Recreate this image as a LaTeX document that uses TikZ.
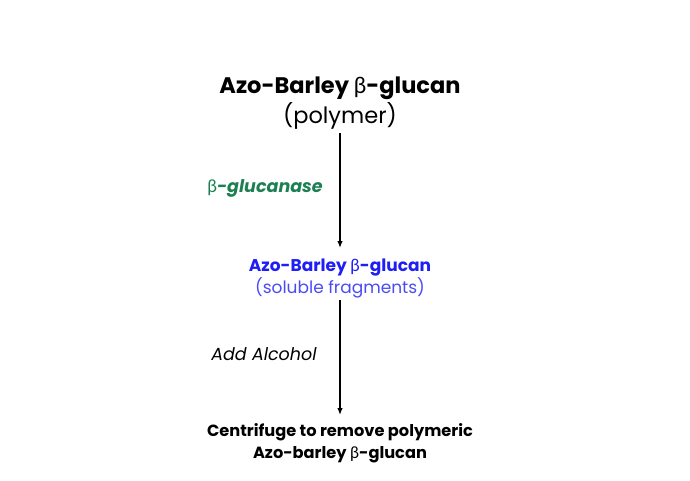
\documentclass[tikz,border=0pt]{standalone}
\usepackage{fontspec}
\setmainfont{Poppins}
\newfontfamily\grk{Lato}
\usetikzlibrary{arrows.meta}
\definecolor{enzgreen}{RGB}{28,128,82}
\definecolor{fragblue}{RGB}{30,30,245}
\definecolor{fraglight}{RGB}{75,75,245}
\newcommand{\bet}{{\grk\fontseries{m}\selectfont β}}
\begin{document}
\begin{tikzpicture}[x=1pt,y=-1pt,
  lbl/.style={inner sep=0pt,align=center},
  flow/.style={-{Latex[length=7pt,width=5.5pt]},line width=1.3pt}]
\useasboundingbox (0,0) rectangle (690,480);
\node[lbl,font=\fontsize{22.5}{30}\selectfont] (top) at (340,103)
  {\textbf{Azo-Barley \bet-glucan}\\(polymer)};
\node[lbl,font=\fontsize{17}{22}\selectfont,text=fragblue] (mid) at (340,278)
  {\textbf{Azo-Barley \bet-glucan}\\\color{fraglight}(soluble fragments)};
\node[lbl,font=\fontsize{16.2}{22}\selectfont] (bot) at (340,443)
  {\textbf{Centrifuge to remove polymeric}\\\textbf{Azo-barley \bet-glucan}};
\coordinate (a1s) at (340,133);
\coordinate (a1e) at (340,248);
\coordinate (a2s) at (340,300);
\coordinate (a2e) at (340,415);
\draw[flow] (a1s) -- (a1e);
\draw[flow] (a2s) -- (a2e);
\node[lbl,font=\fontsize{17.5}{20}\selectfont,text=enzgreen] (enz) at (265,188)
  {\bet\textbf{\itshape-glucanase}};
\node[lbl,font=\fontsize{17.5}{20}\selectfont\itshape] (alc) at (264,354) {Add Alcohol};
\end{tikzpicture}
\end{document}
